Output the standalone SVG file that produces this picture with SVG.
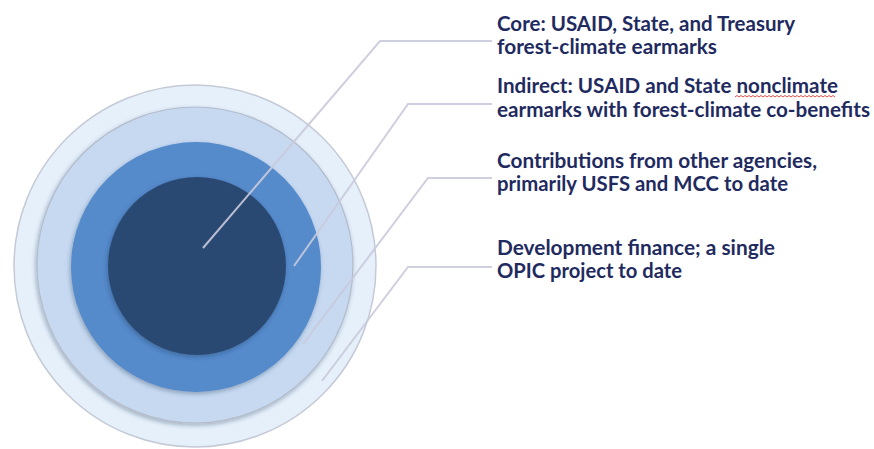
<svg xmlns="http://www.w3.org/2000/svg" width="874" height="449" viewBox="0 0 874 449">
<defs>
<filter id="sh" x="-20%" y="-20%" width="140%" height="140%">
<feDropShadow dx="-1" dy="2" stdDeviation="2" flood-color="#203050" flood-opacity="0.35"/>
</filter>
<style>
.lbl{font-family:Lato,"Open Sans","Liberation Sans",sans-serif;font-weight:bold;font-size:20px;fill:#1f2b60}
.lead{fill:none;stroke:#c9cadb;stroke-width:2;stroke-linejoin:miter;opacity:0.9}
</style>
</defs>
<rect width="874" height="449" fill="#ffffff"/>
<g id="ring-development">
<circle cx="195" cy="266" r="181" fill="#e6f0fb" stroke="#c4cad6" stroke-width="1.5"/>
</g>
<g id="ring-contributions">
<circle cx="195" cy="265" r="158" fill="#c6d9f1" stroke="#b3bccb" stroke-width="1.2" filter="url(#sh)"/>
</g>
<g id="ring-indirect">
<circle cx="196" cy="267" r="125" fill="#558acb" filter="url(#sh)"/>
</g>
<g id="ring-core">
<circle cx="197" cy="266" r="89" fill="#2b4a72" filter="url(#sh)"/>
</g>
<g id="connectors">
<polyline class="lead" points="203,248 380,41 492,41"/>
<polyline class="lead" points="294,266 408,104 492,104"/>
<polyline class="lead" points="303,344 428,178 492,178"/>
<polyline class="lead" points="322,381 408,267 492,267"/>
</g>
<g id="label-core">
<text class="lbl" x="497" y="31" textLength="298" lengthAdjust="spacingAndGlyphs">Core: USAID, State, and Treasury</text>
<text class="lbl" x="497" y="54" textLength="220" lengthAdjust="spacingAndGlyphs">forest-climate earmarks</text>
</g>
<g id="label-indirect">
<text class="lbl" x="497" y="93" textLength="341" lengthAdjust="spacingAndGlyphs">Indirect: USAID and State nonclimate</text>
<text class="lbl" x="497" y="117" textLength="373" lengthAdjust="spacingAndGlyphs">earmarks with forest-climate co-benefits</text>
<path d="M735,97 l2,-1.5 l2,1.5 l2,-1.5 l2,1.5 l2,-1.5 l2,1.5 l2,-1.5 l2,1.5 l2,-1.5 l2,1.5 l2,-1.5 l2,1.5 l2,-1.5 l2,1.5 l2,-1.5 l2,1.5 l2,-1.5 l2,1.5 l2,-1.5 l2,1.5 l2,-1.5 l2,1.5 l2,-1.5 l2,1.5 l2,-1.5 l2,1.5 l2,-1.5 l2,1.5 l2,-1.5 l2,1.5 l2,-1.5 l2,1.5 l2,-1.5 l2,1.5 l2,-1.5 l2,1.5 l2,-1.5 l2,1.5 l2,-1.5 l2,1.5 l2,-1.5 l2,1.5 l2,-1.5 l2,1.5 l2,-1.5 l2,1.5 l2,-1.5 l2,1.5 l2,-1.5 l2,1.5" fill="none" stroke="#e0504a" stroke-width="1"/>
</g>
<g id="label-contributions">
<text class="lbl" x="497" y="168" textLength="320" lengthAdjust="spacingAndGlyphs">Contributions from other agencies,</text>
<text class="lbl" x="497" y="191" textLength="291" lengthAdjust="spacingAndGlyphs">primarily USFS and MCC to date</text>
</g>
<g id="label-development">
<text class="lbl" x="497" y="255" textLength="278" lengthAdjust="spacingAndGlyphs">Development finance; a single</text>
<text class="lbl" x="497" y="278" textLength="185" lengthAdjust="spacingAndGlyphs">OPIC project to date</text>
</g>
</svg>
